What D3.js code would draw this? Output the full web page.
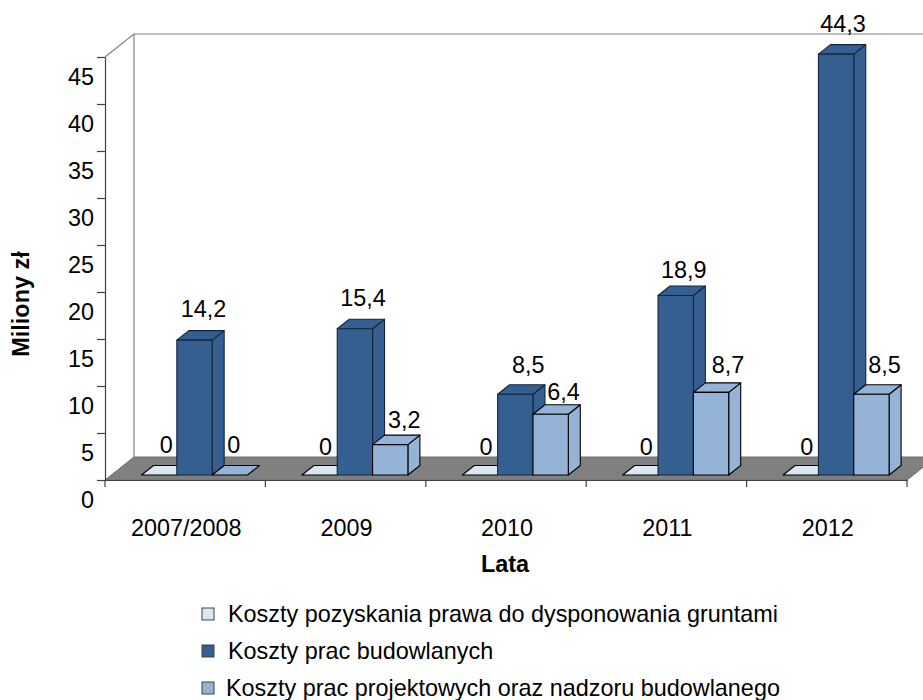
<!DOCTYPE html>
<html>
<head>
<meta charset="utf-8">
<script src="https://cdn.jsdelivr.net/npm/d3@7"></script>
<style>
  body { margin: 0; background: #fff; }
  text { font-family: "Liberation Sans", Arial, sans-serif; fill: #000; }
</style>
</head>
<body>
<div id="chart"></div>
<script>
// chart data
const years = ['2007/2008', '2009', '2010', '2011', '2012'];
const grunty = [0, 0, 0, 0, 0];
const budowlane = [14.2, 15.4, 8.5, 18.9, 44.3];
const projektowe = [0, 3.2, 6.4, 8.7, 8.5];
const seriesNames = [
    'Koszty pozyskania prawa do dysponowania gruntami',
    'Koszty prac budowlanych',
    'Koszty prac projektowych oraz nadzoru budowlanego'
];
const seriesValues = [grunty, budowlane, projektowe];
const seriesColors = ['#DCE6F2', '#355F91', '#95B3D7'];
const yTicks = [0, 5, 10, 15, 20, 25, 30, 35, 40, 45];

const width = 923;
const height = 700;
const fontSize = 23.4;

// 3d depth of the floor and of the bars
const floorDepth = { x: 29, y: -23 };
const barDepth = { x: 12, y: -9.5 };

// hand placement of the data labels, [series][year]
const labelDx = [
    [7, 6, 6, 6, 6],
    [9, 8, 13, 8, 7],
    [4, 14, 13, 17, 13]
];
const labelDy = [
    [-2, 0, 0, 0, 0],
    [-3, -2, -1, 3, -2],
    [-2, 4, 6, 1, -1]
];

const svg = d3.select('#chart')
    .append('svg')
    .attr('width', width)
    .attr('height', height)
    .style('display', 'block');

const x0 = d3.scaleBand().domain(years).range([105, 907]);
const x1 = d3.scaleBand().domain(d3.range(3)).range([36.5, 142.5]);

// axis scale and bar scale sit on different planes of the 3d box
const yAxisScale = d3.scaleLinear().domain([0, 45]).range([480, 57]);
const yBar = d3.scaleLinear().domain([0, 45]).range([475, 47.5]);

const line = d3.line();
const floorY = yAxisScale(0);

// back wall
svg.append('path')
    .attr('d', line([
        [105, yAxisScale(45)],
        [105 + floorDepth.x, yAxisScale(45) + floorDepth.y],
        [width, yAxisScale(45) + floorDepth.y]
    ]))
    .attr('fill', 'none')
    .attr('stroke', '#808080')
    .attr('stroke-width', 1.2);

svg.append('line')
    .attr('x1', 105 + floorDepth.x).attr('x2', 105 + floorDepth.x)
    .attr('y1', yAxisScale(45) + floorDepth.y).attr('y2', floorY + floorDepth.y)
    .attr('stroke', '#808080')
    .attr('stroke-width', 1.2);

// floor
svg.append('path')
    .attr('d', line([
        [105, floorY],
        [105 + floorDepth.x, floorY + floorDepth.y],
        [907 + floorDepth.x, floorY + floorDepth.y],
        [907, floorY]
    ]) + 'Z')
    .attr('fill', '#808080')
    .attr('stroke', '#6e6e6e')
    .attr('stroke-width', 1);

// bars, left to right so the nearer ones cover the sides
years.forEach((year, i) => {
    seriesValues.forEach((values, s) => {
        const v = values[i];
        const bx = x0(year) + x1(s);
        const bw = x1.bandwidth();
        const yTop = yBar(v);
        const yBase = yBar(0);
        const g = svg.append('g')
            .attr('fill', seriesColors[s])
            .attr('stroke', s === 1 ? '#14263d' : '#000')
            .attr('stroke-width', 1.1)
            .attr('stroke-linejoin', 'round');

        // side
        if (v > 0) {
            g.append('path').attr('d', line([
                [bx + bw, yBase],
                [bx + bw + barDepth.x, yBase + barDepth.y],
                [bx + bw + barDepth.x, yTop + barDepth.y],
                [bx + bw, yTop]
            ]) + 'Z');
        }
        // top
        g.append('path').attr('d', line([
            [bx, yTop],
            [bx + barDepth.x, yTop + barDepth.y],
            [bx + bw + barDepth.x, yTop + barDepth.y],
            [bx + bw, yTop]
        ]) + 'Z');
        // front
        if (v > 0) {
            g.append('rect')
                .attr('x', bx)
                .attr('y', yTop)
                .attr('width', bw)
                .attr('height', yBase - yTop);
        }
    });
});

// data labels go on top of all bars
years.forEach((year, i) => {
    seriesValues.forEach((values, s) => {
        const v = values[i];
        svg.append('text')
            .attr('x', x0(year) + x1(s) + x1.bandwidth() / 2 + labelDx[s][i])
            .attr('y', yBar(v) + barDepth.y - 11 + labelDy[s][i])
            .attr('text-anchor', 'middle')
            .attr('font-size', fontSize)
            .text(String(v).replace('.', ','));
    });
});

// y axis, tick labels hang below their tick marks like in the source
const yAxis = svg.append('g')
    .attr('transform', 'translate(105,0)')
    .call(d3.axisLeft(yAxisScale).tickValues(yTicks).tickSize(8).tickSizeOuter(0).tickFormat(d => d));
yAxis.selectAll('path, line').attr('stroke', '#404040').attr('stroke-width', 1.2);
yAxis.selectAll('text')
    .attr('x', -11)
    .attr('dy', 27)
    .attr('font-size', fontSize)
    .attr('font-family', '"Liberation Sans", Arial, sans-serif');

// x axis
const xAxis = svg.append('g')
    .attr('transform', `translate(0,${floorY})`)
    .call(d3.axisBottom(x0).tickSize(0).tickSizeOuter(0));
xAxis.select('path').attr('stroke', '#404040').attr('stroke-width', 1.2);
xAxis.selectAll('text')
    .attr('y', 56)
    .attr('dy', 0)
    .attr('dx', 1)
    .attr('font-size', fontSize)
    .attr('font-family', '"Liberation Sans", Arial, sans-serif');

svg.append('g')
    .selectAll('line')
    .data(x0.domain().map(d => x0(d)).concat([907]))
    .join('line')
    .attr('x1', d => d).attr('x2', d => d)
    .attr('y1', floorY).attr('y2', floorY + 7)
    .attr('stroke', '#404040')
    .attr('stroke-width', 1.2);

// axis titles
svg.append('text')
    .attr('transform', 'translate(29,304) rotate(-90)')
    .attr('text-anchor', 'middle')
    .attr('font-size', fontSize)
    .attr('font-weight', 'bold')
    .text('Miliony zł');

svg.append('text')
    .attr('x', 505)
    .attr('y', 572)
    .attr('text-anchor', 'middle')
    .attr('font-size', fontSize)
    .attr('font-weight', 'bold')
    .text('Lata');

// legend
const legend = svg.append('g')
    .selectAll('g')
    .data(seriesNames)
    .join('g')
    .attr('transform', (d, i) => `translate(202,${608 + i * 37})`);

legend.append('rect')
    .attr('width', 12)
    .attr('height', 12)
    .attr('fill', (d, i) => seriesColors[i])
    .attr('stroke', '#404040')
    .attr('stroke-width', 1);

legend.append('text')
    .attr('x', (d, i) => i === 2 ? 24 : 26)
    .attr('y', 14)
    .attr('font-size', fontSize)
    .text(d => d);
</script>
</body>
</html>
